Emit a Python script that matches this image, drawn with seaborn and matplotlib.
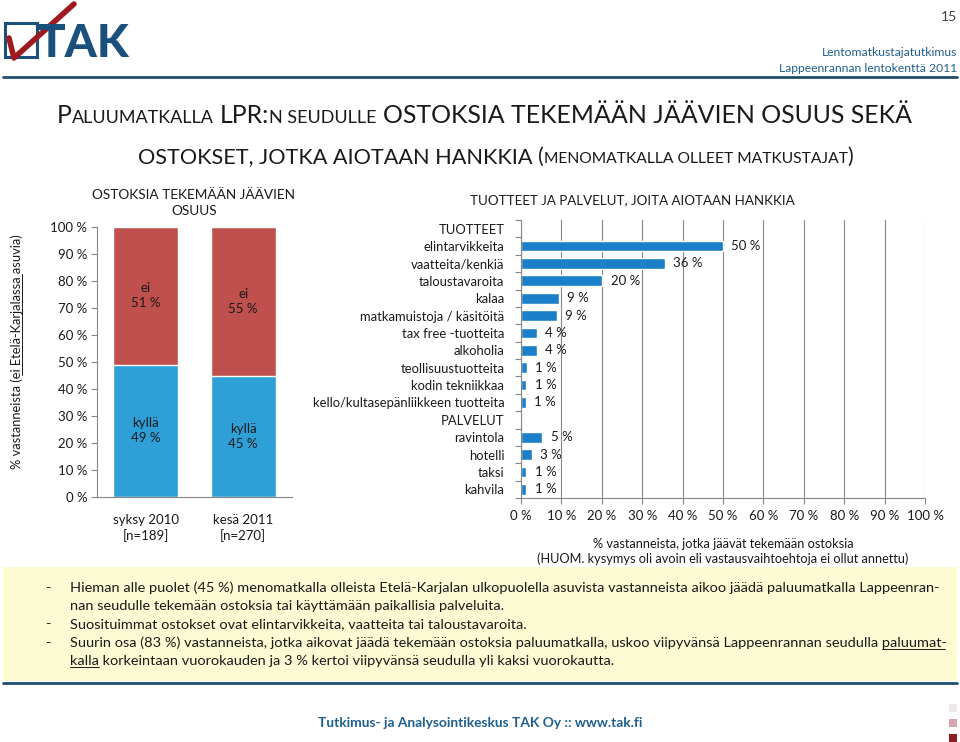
import matplotlib
matplotlib.use("Agg")
import matplotlib.pyplot as plt
import seaborn as sns
import pandas as pd
from matplotlib.lines import Line2D
from matplotlib.patches import Rectangle

# Page size in pixels (dpi 100)
W, H = 960, 742

# ---- data: share of respondents who stay to shop (left chart)
periods = ["syksy 2010\n[n=189]", "kesä 2011\n[n=270]"]
share_yes = [49, 45]
share_no = [51, 55]

# ---- data: what they intend to buy (right chart)
groups = ["TUOTTEET", "PALVELUT"]
items = ["elintarvikkeita", "vaatteita/kenkiä", "taloustavaroita", "kalaa",
         "matkamuistoja / käsitöitä", "tax free -tuotteita", "alkoholia",
         "teollisuustuotteita", "kodin tekniikkaa",
         "kello/kultasepänliikkeen tuotteita",
         "ravintola", "hotelli", "taksi", "kahvila"]
item_group = ["TUOTTEET"] * 10 + ["PALVELUT"] * 4
item_share = [50.0, 35.6, 20.1, 9.4, 8.9, 4.0, 3.9, 1.4, 1.3, 1.2,
              5.3, 2.7, 1.3, 1.3]
pct_ticks = list(range(0, 101, 10))

bullets = [
    ["Hieman alle puolet (45 %) menomatkalla olleista Etelä-Karjalan ulkopuolella asuvista vastanneista aikoo jäädä paluumatkalla Lappeenran-",
     "nan seudulle tekemään ostoksia tai käyttämään paikallisia palveluita."],
    ["Suosituimmat ostokset ovat elintarvikkeita, vaatteita tai taloustavaroita."],
    ["Suurin osa (83 %) vastanneista, jotka aikovat jäädä tekemään ostoksia paluumatkalla, uskoo viipyvänsä Lappeenrannan seudulla paluumat-",
     "kalla korkeintaan vuorokauden ja 3 % kertoi viipyvänsä seudulla yli kaksi vuorokautta."],
]

BLUE_L = "#2f9fd8"
BLUE_R = "#1b7fc9"
RED = "#c0504d"
GREY = "#868686"
TEAL = "#1f5f8f"
DARK = "#1a1a1a"
FONT = "Lato"

sns.set_theme(style="white")
plt.rcParams["font.family"] = [FONT, "DejaVu Sans"]

fig = plt.figure(figsize=(W / 100, H / 100), dpi=100)
renderer = fig.canvas.get_renderer()


def fx(x):
    return x / W


def fy(y):
    return 1 - y / H


def fit(t, target, vertical=False):
    bb = t.get_window_extent(renderer)
    size = bb.height if vertical else bb.width
    t.set_fontsize(t.get_fontsize() * target / size)
    return t


def runs_line(runs, x0, yb, target):
    texts = [fig.text(0, 0, s, fontsize=sz, color=DARK, va="baseline", ha="left")
             for s, sz, gap in runs]

    def place():
        x = x0
        for t, (s, sz, gap) in zip(texts, runs):
            x += gap * t.get_fontsize() * 100 / 72
            t.set_position((fx(x), fy(yb)))
            x += t.get_window_extent(renderer).width
        return x - x0

    k = target / place()
    for t in texts:
        t.set_fontsize(t.get_fontsize() * k)
    place()


def hline(x0, x1, y, color, lw):
    fig.add_artist(Line2D([fx(x0), fx(x1)], [fy(y), fy(y)], color=color, lw=lw))


# ---- header
fig.add_artist(Rectangle((fx(5), fy(57)), fx(32), 34 / H, fill=False,
                         edgecolor="#1b4f7c", lw=2.2))
fig.text(fx(37), fy(57), "TAK", fontsize=33, fontweight="black", color="#1b4f7c",
         va="baseline", ha="left")
fig.add_artist(Line2D([fx(9), fx(14), fx(74)], [fy(38), fy(58), fy(4)],
                      color="#9e1b20", lw=4, solid_capstyle="round",
                      solid_joinstyle="round"))
fig.text(fx(957), fy(17), "15", fontsize=10, color="#404040", ha="right", va="center")
t = fig.text(fx(957), fy(68), "Lappeenrannan lentokenttä 2011", fontsize=11,
             color=TEAL, ha="right", va="center")
fit(t, 179)
fig.text(fx(957), fy(53), "Lentomatkustajatutkimus", fontsize=t.get_fontsize(),
         color=TEAL, ha="right", va="center")
hline(3, 957, 77, "#1f4e6e", 2)

# ---- page title (small caps look)
BIG, SMALL = 20, 14.5
runs_line([("P", BIG, 0), ("ALUUMATKALLA", SMALL, 0), ("LPR:", BIG, 0.25),
           ("N SEUDULLE", SMALL, 0), ("OSTOKSIA TEKEMÄÄN JÄÄVIEN OSUUS SEKÄ", BIG, 0.25)],
          57, 123, 853)
runs_line([("OSTOKSET, JOTKA AIOTAAN HANKKIA", BIG, 0), ("(", BIG, 0.25),
           ("MENOMATKALLA OLLEET MATKUSTAJAT", SMALL, 0), (")", BIG, 0)],
          138, 163, 715)

# ---- left chart: stacked share bars
ax1 = fig.add_axes([fx(97), fy(497), 195 / W, 270 / H])
totals = [a + b for a, b in zip(share_yes, share_no)]
sns.barplot(x=periods, y=totals, color=RED, saturation=1, width=0.67, ax=ax1)
sns.barplot(x=periods, y=share_yes, color=BLUE_L, saturation=1, width=0.67, ax=ax1)
ax1.set_ylim(0, 100)
ax1.set_xlim(-0.5, 1.5)
ax1.set_yticks(pct_ticks)
ax1.set_yticklabels([f"{v} %" for v in pct_ticks], fontsize=9.5, color=DARK)
ax1.set_xticks(range(len(periods)))
ax1.set_xticklabels(periods, fontsize=9.5, color=DARK)
for lab in ax1.get_xticklabels():
    lab.set_linespacing(1.35)
ax1.set_xticks([-0.5, 0.5, 1.5], minor=True)
ax1.tick_params(axis="x", which="major", length=0, pad=12)
ax1.tick_params(axis="x", which="minor", length=4, color=GREY, width=0.8)
ax1.tick_params(axis="y", which="major", length=4, color=GREY, width=0.8, pad=3, left=True)
for s in ["top", "right"]:
    ax1.spines[s].set_visible(False)
for s in ["left", "bottom"]:
    ax1.spines[s].set_color(GREY)
    ax1.spines[s].set_linewidth(0.8)
ax1.set_xlabel("")
ax1.set_ylabel("")
for i, (yes, no) in enumerate(zip(share_yes, share_no)):
    ax1.text(i, yes / 2, f"kyllä\n{yes} %", ha="center", va="center", fontsize=9.5,
             color=DARK, linespacing=1.3)
    ax1.text(i, yes + no / 2, f"ei\n{no} %", ha="center", va="center", fontsize=9.5,
             color=DARK, linespacing=1.3)

t = fig.text(fx(194), fy(203), "OSTOKSIA TEKEMÄÄN JÄÄVIEN\nOSUUS", ha="center",
             va="center", fontsize=10.5, color=DARK, linespacing=1.45)
fit(t, 204)

ylab_pre = "% vastanneista ("
ylab_ul = "ei Etelä-Karjalassa"
ylab = ylab_pre + ylab_ul + " asuvia)"
t = fig.text(fx(17), fy(352), ylab, rotation=90, ha="center", va="center",
             fontsize=9, color=DARK)
fit(t, 237, vertical=True)
bb = t.get_window_extent(renderer)
probe = fig.text(0, 0, "x" + ylab_pre.strip() + "x", fontsize=t.get_fontsize())
probe_x = fig.text(0, 0, "xx", fontsize=t.get_fontsize())
w_pre = probe.get_window_extent(renderer).width - probe_x.get_window_extent(renderer).width
probe.remove()
probe_x.remove()
probe = fig.text(0, 0, ylab_ul, fontsize=t.get_fontsize())
w_ul = probe.get_window_extent(renderer).width
probe.remove()
y0 = bb.y0 + w_pre + 0.25 * t.get_fontsize() * 100 / 72
fig.add_artist(Line2D([(bb.x1 - 1) / W, (bb.x1 - 1) / W], [y0 / H, (y0 + w_ul) / H],
                      color=DARK, lw=0.7))

# ---- right chart: products and services
order = []
for g in groups:
    order.append(g)
    order += [it for it, gg in zip(items, item_group) if gg == g]
df = pd.DataFrame({"item": items, "share": item_share})

ax2 = fig.add_axes([fx(521), fy(498), 404 / W, 278 / H])
sns.barplot(data=df, x="share", y="item", order=order, orient="h", color=BLUE_R,
            saturation=1, width=0.62, ax=ax2)
ax2.set_xlim(0, 100)
ax2.set_ylim(len(order) - 0.5, -0.5)
ax2.set_xticks(pct_ticks)
ax2.set_xticklabels([f"{v} %" for v in pct_ticks], fontsize=9.5, color=DARK)
ax2.set_yticks(range(len(order)))
ax2.set_yticklabels(order, fontsize=9, color=DARK)
ax2.set_yticks([k - 0.5 for k in range(len(order) + 1)], minor=True)
ax2.tick_params(axis="y", which="major", length=0, pad=12)
ax2.tick_params(axis="y", which="minor", length=4, color=GREY, width=0.8, left=True)
ax2.tick_params(axis="x", which="major", length=4, color=GREY, width=0.8, pad=5, bottom=True)
ax2.grid(axis="x", color=GREY, lw=0.8)
ax2.grid(axis="y", visible=False)
ax2.set_axisbelow(True)
for s in ["top", "right"]:
    ax2.spines[s].set_visible(False)
for s in ["left", "bottom"]:
    ax2.spines[s].set_color(GREY)
    ax2.spines[s].set_linewidth(0.8)
ax2.set_ylabel("")
for it, v in zip(items, item_share):
    ax2.annotate(f"{v:.0f} %", (v, order.index(it)), xytext=(6, 0),
                 textcoords="offset points", va="center", ha="left", fontsize=9.5,
                 color=DARK)
ax2.set_xlabel("% vastanneista, jotka jäävät tekemään ostoksia\n"
               "(HUOM. kysymys oli avoin eli vastausvaihtoehtoja ei ollut annettu)",
               fontsize=9, color=DARK, labelpad=11, linespacing=1.3)

# fit tick label sizes to the reference widths (a touch larger than exact)
longest = ax2.get_yticklabels()[order.index("kello/kultasepänliikkeen tuotteita")]
k = 192 / longest.get_window_extent(renderer).width
for lab in ax2.get_yticklabels():
    lab.set_fontsize(lab.get_fontsize() * k)
fit(ax2.xaxis.label, 372)

t = fig.text(fx(632), fy(200), "TUOTTEET JA PALVELUT, JOITA AIOTAAN HANKKIA",
             ha="center", va="center", fontsize=10.5, color=DARK)
fit(t, 328)

# ---- summary box
fig.add_artist(Rectangle((fx(3), fy(681)), fx(954), 114 / H, facecolor="#fdfbd3",
                         edgecolor="none"))
hline(3, 957, 683, "#1f4e6e", 2)
baselines = [592, 610, 628, 647, 665]
first = fig.text(fx(70), fy(baselines[0]), bullets[0][0], fontsize=10, color=DARK,
                 va="baseline", ha="left")
fit(first, 865)
body_size = first.get_fontsize()
row = 0
for para in bullets:
    fig.text(fx(48), fy(baselines[row]), "-", fontsize=body_size, color=DARK,
             va="baseline", ha="center")
    for line in para:
        if row > 0:
            fig.text(fx(70), fy(baselines[row]), line, fontsize=body_size,
                     color=DARK, va="baseline", ha="left")
        row += 1

# underlines in the last bullet
full = fig.text(fx(70), fy(baselines[3]), bullets[2][0], fontsize=body_size, alpha=0)
x_end = full.get_window_extent(renderer).x1
word = fig.text(0, 0, "paluumat-", fontsize=body_size, alpha=0)
w_word = word.get_window_extent(renderer).width
word2 = fig.text(0, 0, "kalla", fontsize=body_size, alpha=0)
w_word2 = word2.get_window_extent(renderer).width
hline(x_end - w_word, x_end - 2, baselines[3] + 2, DARK, 0.7)
hline(70, 70 + w_word2, baselines[4] + 2, DARK, 0.7)

# ---- footer
t = fig.text(fx(480), fy(723), "Tutkimus- ja Analysointikeskus TAK Oy :: www.tak.fi",
             ha="center", va="center", fontsize=11, fontweight="bold", color=TEAL)
fit(t, 325)
for y0, col in [(704, "#ede6ea"), (719, "#d9a3b0"), (734, "#8e1c26")]:
    fig.add_artist(Rectangle((fx(949), fy(y0 + 8)), 8 / W, 8 / H, facecolor=col,
                             edgecolor="none"))

fig.savefig("out.png", dpi=100)
